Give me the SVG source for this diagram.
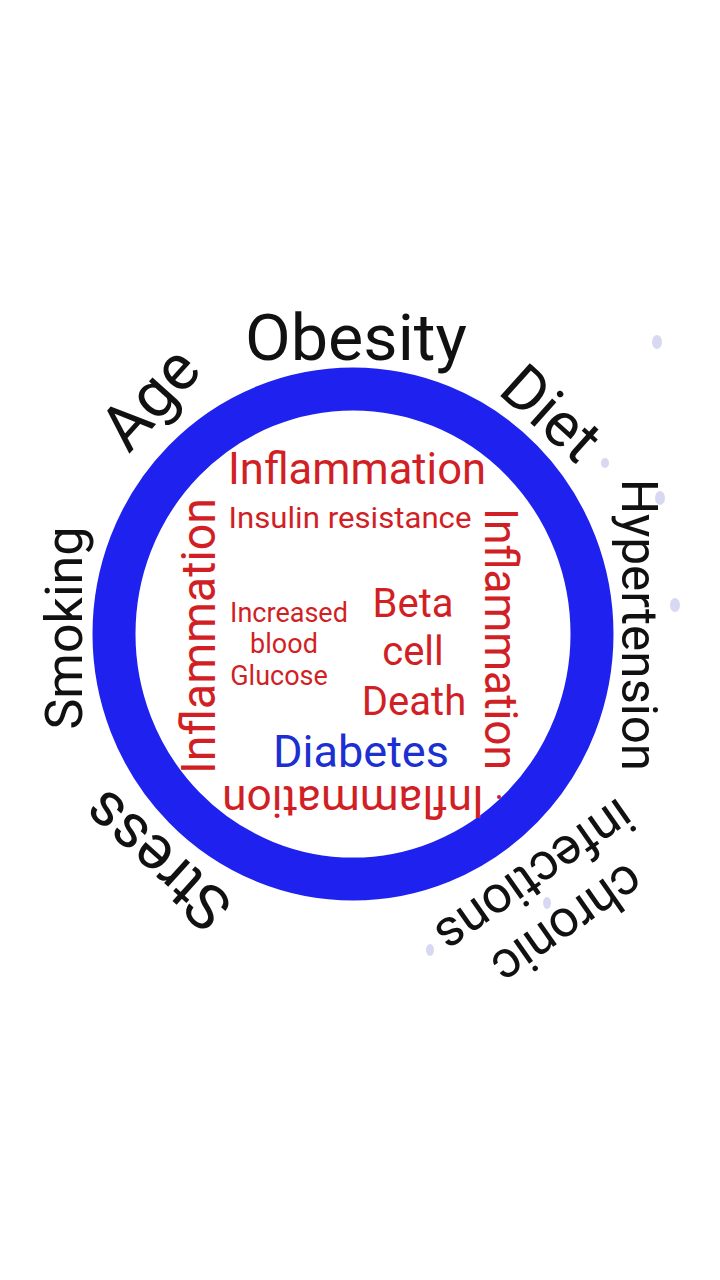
<svg xmlns="http://www.w3.org/2000/svg" width="720" height="1280" viewBox="0 0 720 1280">
<style>
.o{font-family:Roboto,"Liberation Sans",sans-serif;fill:#111;text-anchor:middle}
.r{font-family:Roboto,"Liberation Sans",sans-serif;fill:#d11f26;text-anchor:middle}
.b{font-family:Roboto,"Liberation Sans",sans-serif;fill:#1c2fd2;text-anchor:middle}
.dot{fill:#d8d8f2}
</style>
<rect width="720" height="1280" fill="#fff"/>
<g id="ring">
<ellipse cx="353" cy="634" rx="239" ry="245" fill="none" stroke="#1f22ee" stroke-width="43"/>
</g>
<g id="artifacts">
<ellipse class="dot" cx="657" cy="342" rx="5" ry="7"/>
<ellipse class="dot" cx="605" cy="463" rx="4" ry="5"/>
<ellipse class="dot" cx="660" cy="498" rx="5" ry="7"/>
<ellipse class="dot" cx="675" cy="605" rx="5" ry="7"/>
<ellipse class="dot" cx="547" cy="903" rx="4" ry="6"/>
<ellipse class="dot" cx="430" cy="950" rx="4" ry="6"/>
</g>
<g id="outer-factors">
<g id="obesity"><text class="o" x="356" y="360" font-size="64" textLength="222" lengthAdjust="spacingAndGlyphs">Obesity</text></g>
<g id="age"><text class="o" transform="translate(166,413) rotate(-48)" font-size="64">Age</text></g>
<g id="diet"><text class="o" transform="translate(537,429) rotate(42)" font-size="62">Diet</text></g>
<g id="hypertension"><text class="o" transform="translate(622,625) rotate(90)" font-size="50" textLength="292" lengthAdjust="spacingAndGlyphs">Hypertension</text></g>
<g id="smoking"><text class="o" transform="translate(82,628) rotate(-90)" font-size="52" textLength="203" lengthAdjust="spacingAndGlyphs">Smoking</text></g>
<g id="stress"><text class="o" transform="translate(171,845) rotate(222)" font-size="62">Stress</text></g>
<g id="chronic-infections">
<text class="o" transform="translate(558,910) rotate(145)" font-size="52">chronic</text>
<text class="o" transform="translate(525,862) rotate(145)" font-size="52">infections</text>
</g>
</g>
<g id="inner">
<g id="inflammation-top"><text class="r" x="357" y="484" font-size="44" textLength="258" lengthAdjust="spacingAndGlyphs">Inflammation</text></g>
<g id="insulin-resistance"><text class="r" x="350" y="528" font-size="29" textLength="243" lengthAdjust="spacingAndGlyphs">Insulin resistance</text></g>
<g id="inflammation-left"><text class="r" transform="translate(215,636) rotate(-90)" font-size="48" textLength="276" lengthAdjust="spacingAndGlyphs">Inflammation</text></g>
<g id="inflammation-right"><text class="r" transform="translate(485,639) rotate(90)" font-size="46" textLength="262" lengthAdjust="spacingAndGlyphs">Inflammation</text></g>
<g id="inflammation-bottom"><text class="r" transform="translate(353,786) rotate(180)" font-size="44" textLength="262" lengthAdjust="spacingAndGlyphs">Inflammation</text>
<circle cx="499" cy="797" r="2" fill="#d11f26"/></g>
<g id="increased-blood-glucose">
<text class="r" x="289" y="622" font-size="27">Increased</text>
<text class="r" x="284" y="653" font-size="27">blood</text>
<text class="r" x="279" y="685" font-size="27">Glucose</text>
</g>
<g id="beta-cell-death">
<text class="r" x="413" y="617" font-size="40">Beta</text>
<text class="r" x="413" y="665" font-size="40">cell</text>
<text class="r" x="414" y="715" font-size="40">Death</text>
</g>
<g id="diabetes"><text class="b" x="361" y="767" font-size="45">Diabetes</text></g>
</g>
</svg>
